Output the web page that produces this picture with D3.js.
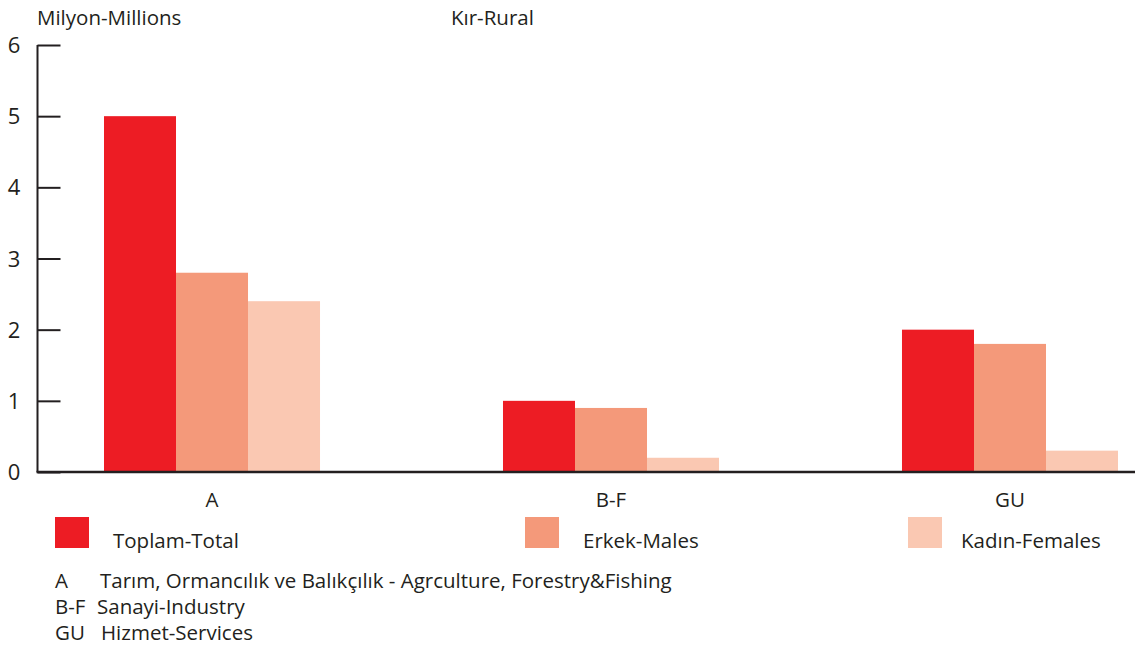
<!DOCTYPE html>
<html>
<head>
<meta charset="utf-8">
<script src="https://cdn.jsdelivr.net/npm/d3@7/dist/d3.min.js"></script>
<style>
  html, body { margin: 0; padding: 0; background: #fff; }
  svg text { font-family: "Open Sans", "Noto Sans", sans-serif; fill: #231f20; }
</style>
</head>
<body>
<svg id="chart" width="1135" height="646"></svg>
<script>
// Sector groups and series (millions of people, rural)
const categories = ["A", "B-F", "GU"];
const seriesNames = ["Toplam-Total", "Erkek-Males", "Kadın-Females"];
const totalValues = [5.0, 1.0, 2.0];
const maleValues = [2.8, 0.9, 1.8];
const femaleValues = [2.4, 0.2, 0.3];
const yTicks = [0, 1, 2, 3, 4, 5, 6];
const footnotes = [
  ["A", "Tarım, Ormancılık ve Balıkçılık - Agrculture, Forestry&Fishing"],
  ["B-F", "Sanayi-Industry"],
  ["GU", "Hizmet-Services"]
];

const colors = ["#ed1c24", "#f4997a", "#fac8b2"];
const seriesValues = [totalValues, maleValues, femaleValues];
const fontSize = 20.5;

const svg = d3.select("#chart");
const axisX = 37.5, baseY = 472, topY = 45;

const y = d3.scaleLinear().domain([0, 6]).range([baseY, topY]);
const x = d3.scaleBand().domain(categories).range([104, 1118]).paddingInner(0.4586).paddingOuter(0);
const xs = d3.scaleBand().domain(seriesNames).range([0, x.bandwidth()]);

// bars
const groups = svg.append("g").selectAll("g")
  .data(categories)
  .join("g")
  .attr("transform", d => `translate(${x(d)},0)`);

groups.selectAll("rect")
  .data((c, i) => seriesNames.map((s, j) => ({ s, j, v: seriesValues[j][i] })))
  .join("rect")
  .attr("x", d => xs(d.s))
  .attr("width", xs.bandwidth())
  .attr("y", d => y(d.v))
  .attr("height", d => baseY - y(d.v))
  .attr("fill", d => colors[d.j]);

// y axis: ticks point inward
const yAxis = d3.axisRight(y).tickValues(yTicks).tickSize(23).tickFormat("");
const yg = svg.append("g").attr("transform", `translate(${axisX},0)`).call(yAxis);
yg.select(".domain").remove();
yg.selectAll(".tick line").attr("stroke", "#231f20").attr("stroke-width", 2);
svg.append("line").attr("x1", axisX).attr("x2", axisX).attr("y1", topY).attr("y2", baseY)
  .attr("stroke", "#231f20").attr("stroke-width", 2);

svg.append("g").selectAll("text")
  .data(yTicks)
  .join("text")
  .attr("x", 14).attr("y", d => y(d) + 8)
  .attr("text-anchor", "middle")
  .attr("font-size", 22)
  .text(d => d);

// baseline
svg.append("line").attr("x1", axisX - 1).attr("x2", 1135).attr("y1", baseY).attr("y2", baseY)
  .attr("stroke", "#231f20").attr("stroke-width", 2.5);

// category labels
svg.append("g").selectAll("text")
  .data(categories)
  .join("text")
  .attr("x", d => x(d) + x.bandwidth() / 2)
  .attr("y", 507)
  .attr("text-anchor", "middle")
  .attr("font-size", fontSize)
  .text(d => d);

// titles
svg.append("text").attr("x", 37).attr("y", 25).attr("font-size", fontSize).text("Milyon-Millions");
svg.append("text").attr("x", 451).attr("y", 25).attr("font-size", fontSize).text("Kır-Rural");

// legend
const legendX = [55, 525, 908];
const legendTextX = [58, 58, 53];
const leg = svg.append("g").selectAll("g")
  .data(seriesNames)
  .join("g")
  .attr("transform", (d, i) => `translate(${legendX[i]},517)`);
leg.append("rect").attr("width", 34).attr("height", 31).attr("fill", (d, i) => colors[i]);
leg.append("text").attr("x", (d, i) => legendTextX[i]).attr("y", 31).attr("font-size", fontSize).text(d => d);

// footnotes
const fn = svg.append("g").selectAll("g")
  .data(footnotes)
  .join("g")
  .attr("transform", (d, i) => `translate(55,${588 + i * 26})`);
fn.append("text").attr("font-size", fontSize).text(d => d[0]);
fn.append("text").attr("x", (d, i) => [45, 42, 46][i]).attr("font-size", fontSize).text(d => d[1]);
</script>
</body>
</html>
